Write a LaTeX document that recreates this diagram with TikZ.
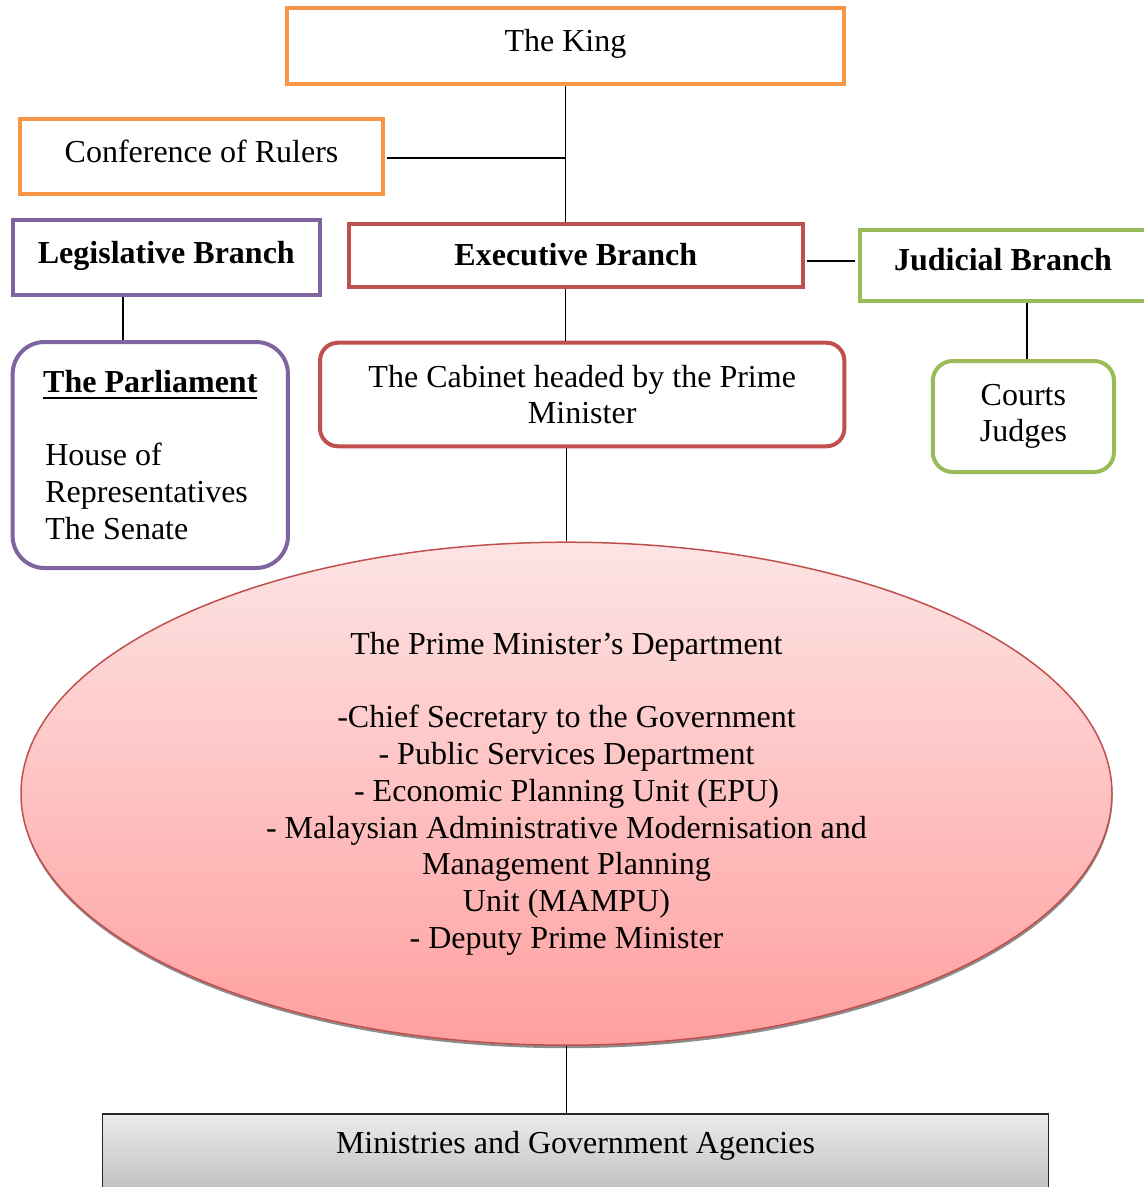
\documentclass[tikz,border=0pt]{standalone}
\usepackage{fontspec}
\setmainfont{Liberation Serif}
\usetikzlibrary{shapes.geometric,shadows,calc}

\definecolor{accorange}{HTML}{F79646}
\definecolor{accpurple}{HTML}{8064A2}
\definecolor{accred}{HTML}{C0504D}
\definecolor{accgreen}{HTML}{9BBB59}
\definecolor{pinktop}{HTML}{FDE4E4}
\definecolor{pinkbottom}{HTML}{FF9F9F}
\definecolor{greytop}{HTML}{EBEBEB}
\definecolor{greybottom}{HTML}{B1B1B1}

\newcommand\bodyfont{\fontsize{32pt}{36.7pt}\selectfont}
% underlined heading: a 2pt rule placed 5pt under the baseline
\newcommand\ulinebox[1]{\setbox0\hbox{#1}\rlap{\rule[-6pt]{\wd0}{2pt}}\box0}

\begin{document}
\begin{tikzpicture}[x=1pt,y=-1pt,
  every node/.style={font=\bodyfont, inner sep=0pt},
  sqbox/.style={draw, line width=4pt, text height=22pt, text depth=11pt},
  rbox/.style={draw, line width=4pt, align=center},
  conn/.style={line width=1.8pt, black},
  oval/.style={ellipse, draw=accred, line width=1.5pt,
    top color=pinktop, bottom color=pinkbottom, align=center,
    drop shadow={shadow xshift=0.5pt, shadow yshift=-3pt, fill=black!45, opacity=1}},
  basebox/.style={draw=black!85, line width=1.5pt, top color=greytop,
    bottom color=greybottom, inner ysep=18pt, text height=22pt, text depth=48pt}]

\useasboundingbox (0,0) rectangle (1144,1187);
\clip (0,0) rectangle (1144,1187);

% top of the hierarchy
\node[sqbox, draw=accorange, minimum width=557pt, minimum height=76pt]
  (king) at (565.5,46) {The King};
\node[sqbox, draw=accorange, minimum width=363pt, minimum height=75pt]
  (rulers) at (201.5,156.5) {Conference of Rulers};

% the three branches
\node[sqbox, draw=accpurple, minimum width=307pt, minimum height=75pt, font=\bodyfont\bfseries]
  (leg) at (166.3,257.5) {Legislative Branch};
\node[sqbox, draw=accred, minimum width=454pt, minimum height=63pt, text depth=2pt, font=\bodyfont\bfseries]
  (exec) at (575.8,255.2) {Executive Branch};
\node[sqbox, draw=accgreen, minimum width=286pt, minimum height=70.7pt, font=\bodyfont\bfseries]
  (jud) at (1003,265.4) {Judicial Branch};

% bodies under each branch
\node[draw=accpurple, line width=4pt, rounded corners=32pt, align=left,
  minimum width=275.3pt, minimum height=226pt]
  (parl) at (150.3,455)
  {\makebox[210pt][c]{\ulinebox{\bfseries The Parliament}}\\[36.7pt]House of\\Representatives\\The Senate};
\node[rbox, draw=accred, rounded corners=18pt, minimum width=524.4pt, minimum height=103.6pt]
  (cab) at (582.2,394.5) {The Cabinet headed by the Prime\\Minister};
\node[rbox, draw=accgreen, rounded corners=20pt, minimum width=181.3pt, minimum height=111pt]
  (courts) at (1023.4,416.5) {Courts\\Judges};

% the Prime Minister's Department
\node[oval, minimum width=1091pt, minimum height=503pt] (pmd) at (566.5,793.7)
  {The Prime Minister's Department\\[36.7pt]
   -Chief Secretary to the Government\\
   - Public Services Department\\
   - Economic Planning Unit (EPU)\\
   - Malaysian Administrative Modernisation and\\
   Management Planning\\
   Unit (MAMPU)\\
   - Deputy Prime Minister};

% ministries at the base
\node[basebox, anchor=north, minimum width=945.6pt] (min) at (575.5,1113)
  {Ministries and Government Agencies};

% connectors
\draw[conn] (king.south) -- (king.south |- exec.north);
\draw[conn] (rulers.east) ++(2pt,-1.8pt) coordinate (rj) -- (king.south |- rj);
\coordinate (ej) at ($(exec.east)!0.6!(jud.west)$);
\draw[conn] ([xshift=2pt]exec.east |- ej) -- ([xshift=-3pt]jud.west |- ej);
\draw[conn] (king.south |- exec.south) -- (king.south |- cab.north);
\draw[conn] (pmd.north |- cab.south) -- (pmd.north);
\draw[conn] (pmd.south) -- (pmd.south |- min.north);
\draw[conn] ([xshift=-43.3pt]leg.south) -- ([xshift=-43.3pt]leg.south |- parl.north);
\draw[conn] ([xshift=3.6pt]courts.north |- jud.south) -- ([xshift=3.6pt]courts.north);
\end{tikzpicture}
\end{document}
